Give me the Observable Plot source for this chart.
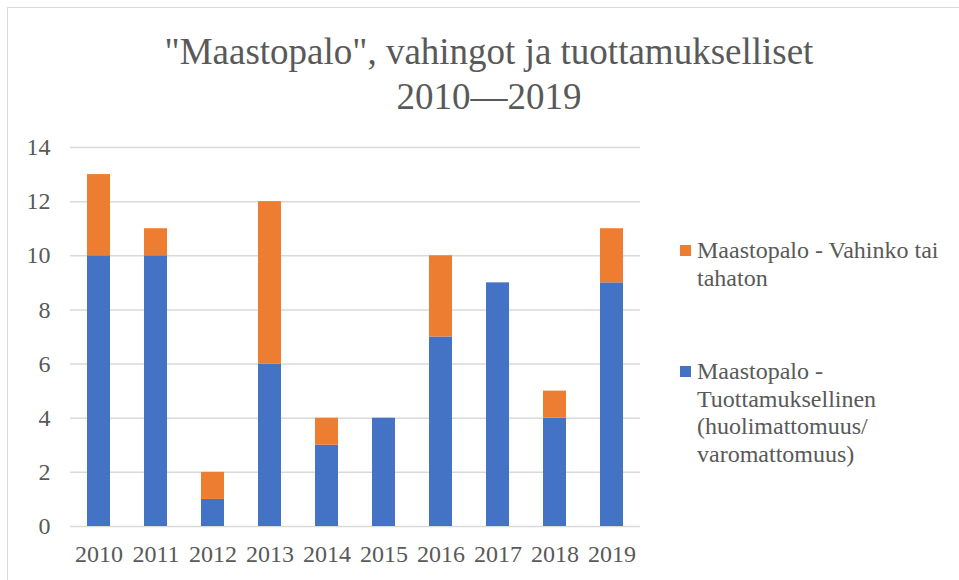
<!DOCTYPE html>
<html>
<head>
<meta charset="utf-8">
<script src="https://cdn.jsdelivr.net/npm/d3@7"></script>
<script src="https://cdn.jsdelivr.net/npm/@observablehq/plot@0.6"></script>
<style>
  html, body { margin: 0; padding: 0; background: #fff; }
  #root { position: relative; width: 959px; height: 580px; overflow: hidden; background: #fff;
          font-family: "Liberation Serif", "Tinos", "Times New Roman", Times, "DejaVu Serif", serif; color: #595959; }
  #frame { position: absolute; left: 7px; top: 7px; width: 960px; height: 600px;
           border-top: 1.5px solid #d9d9d9; border-left: 1.5px solid #d9d9d9; }
  #title { position: absolute; left: 0; width: 978px; top: 29px; text-align: center;
           font-size: 37px; line-height: 45px; color: #595959; }
  #chart { position: absolute; left: 0; top: 120px; }
  .leg { position: absolute; left: 697px; font-size: 24px; line-height: 27.6px; color: #595959; white-space: nowrap; }
  .sw { position: absolute; left: 680px; width: 11px; height: 11px; }
</style>
</head>
<body>
<div id="root">
  <div id="frame"></div>
  <div id="title">"Maastopalo", vahingot ja tuottamukselliset<br>2010—2019</div>
  <div id="chart"></div>
  <div class="sw" id="sw1"></div>
  <div class="leg" id="leg1"></div>
  <div class="sw" id="sw2"></div>
  <div class="leg" id="leg2"></div>
</div>
<script>
const years = ["2010","2011","2012","2013","2014","2015","2016","2017","2018","2019"];
const tuottamuksellinen = [10, 10, 1, 6, 3, 4, 7, 9, 4, 9];
const vahinko = [3, 1, 1, 6, 1, 0, 3, 0, 1, 2];
const seriesNames = ["Maastopalo - Tuottamuksellinen (huolimattomuus/ varomattomuus)", "Maastopalo - Vahinko tai tahaton"];
const seriesColors = ["#4472C4", "#ED7D31"];
const yTicks = [0, 2, 4, 6, 8, 10, 12, 14];
const serifStack = "'Liberation Serif', 'Tinos', 'Times New Roman', Times, 'DejaVu Serif', serif";

const rows = [];
years.forEach((y, i) => {
  rows.push({year: y, series: seriesNames[0], value: tuottamuksellinen[i]});
  rows.push({year: y, series: seriesNames[1], value: vahinko[i]});
});

const chart = Plot.plot({
  width: 660,
  height: 460,
  marginLeft: 70,
  marginRight: 20,
  marginTop: 27,
  marginBottom: 54,
  style: { fontFamily: serifStack, fontSize: "24px", color: "#595959", background: "transparent" },
  x: { domain: years, paddingInner: 0.6, paddingOuter: 0.3, label: null },
  y: { domain: [0, 14], label: null },
  color: { domain: seriesNames, range: seriesColors },
  marks: [
    Plot.ruleY(yTicks, { stroke: "#d9d9d9", strokeWidth: 1.5 }),
    Plot.barY(rows, { x: "year", y: "value", fill: "series", order: seriesNames }),
    Plot.axisX({ tickSize: 0, tickPadding: 18, fontSize: 24, label: null, fill: "#595959" }),
    Plot.axisY({ ticks: yTicks, tickSize: 0, tickPadding: 20, fontSize: 24, label: null, fill: "#595959" })
  ]
});
document.getElementById("chart").appendChild(chart);

const sw1 = document.getElementById("sw1");
sw1.style.top = "245px"; sw1.style.background = seriesColors[1];
const leg1 = document.getElementById("leg1");
leg1.style.top = "237px";
leg1.innerHTML = "Maastopalo - Vahinko tai<br>tahaton";

const sw2 = document.getElementById("sw2");
sw2.style.top = "366px"; sw2.style.background = seriesColors[0];
const leg2 = document.getElementById("leg2");
leg2.style.top = "358px";
leg2.innerHTML = "Maastopalo -<br>Tuottamuksellinen<br>(huolimattomuus/<br>varomattomuus)";
</script>
</body>
</html>
